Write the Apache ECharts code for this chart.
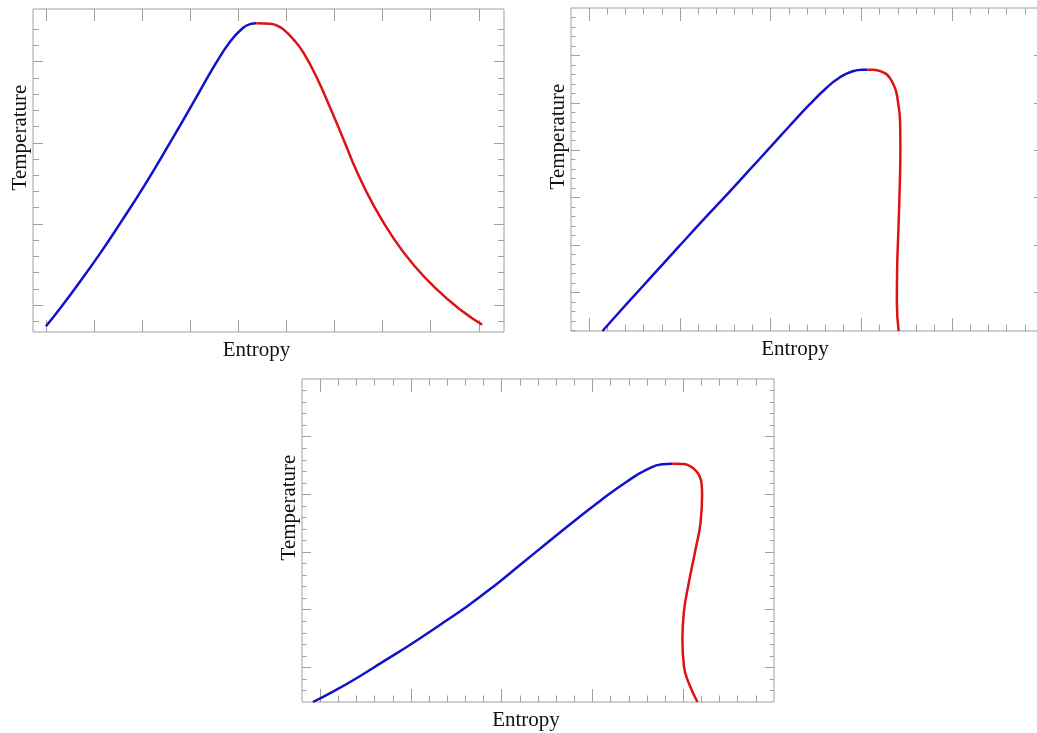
<!DOCTYPE html>
<html>
<head>
<meta charset="utf-8">
<script src="https://cdn.jsdelivr.net/npm/echarts@6/dist/echarts.min.js"></script>
<style>
html,body{margin:0;padding:0;background:#fff;}
#chart{width:1037px;height:733px;}
</style>
</head>
<body>
<div id="chart"></div>
<script>
// ---------- Panel A (top-left, bell-shaped dome) ----------
const aLiquidS = [0, 0.348, 0.702, 1.119, 1.535, 2.056, 2.577, 3.098, 3.515, 3.827, 4.077, 4.244, 4.375];
const aLiquidT = [0.737, 1.0, 1.284, 1.630, 2.0, 2.481, 3.0, 3.531, 3.963, 4.247, 4.407, 4.463, 4.473];
const aVaporS = [4.375, 4.66, 4.806, 4.938, 5.146, 5.354, 5.633, 5.910, 6.188, 6.467, 6.813, 7.229, 7.646, 8.133, 8.619, 9.071];
const aVaporT = [4.473, 4.469, 4.444, 4.399, 4.275, 4.111, 3.802, 3.432, 3.041, 2.642, 2.228, 1.821, 1.494, 1.189, 0.942, 0.757];
const aXMajor = [0, 1, 2, 3, 4, 5, 6, 7, 8, 9];
const aXMinor = [];
const aYMajor = [1, 2, 3, 4];
const aYMinor = [0.8, 1.2, 1.4, 1.6, 1.8, 2.2, 2.4, 2.6, 2.8, 3.2, 3.4, 3.6, 3.8, 4.2, 4.4];

// ---------- Panel B (top-right, vertical vapour branch) ----------
const bLiquidS = [1.147, 1.331, 1.551, 1.772, 1.992, 2.249, 2.507, 2.764, 2.985, 3.205, 3.426, 3.610, 3.756, 3.903, 4.013, 4.065];
const bLiquidT = [0.186, 0.582, 1.046, 1.511, 1.975, 2.513, 3.040, 3.578, 4.042, 4.506, 4.960, 5.308, 5.530, 5.667, 5.698, 5.698];
const bVaporS = [4.065, 4.124, 4.253, 4.302, 4.344, 4.379, 4.399, 4.426, 4.429, 4.422, 4.407, 4.393, 4.390, 4.410];
const bVaporT = [5.698, 5.698, 5.629, 5.551, 5.418, 5.255, 5.065, 4.574, 4.011, 3.251, 2.323, 1.479, 0.776, 0.186];
const bXMajor = [1, 2, 3, 4, 5];
const bXMinor = [1.2, 1.4, 1.6, 1.8, 2.2, 2.4, 2.6, 2.8, 3.2, 3.4, 3.6, 3.8, 4.2, 4.4, 4.6, 4.8, 5.2, 5.4, 5.6, 5.8];
const bYMajor = [1, 2, 3, 4, 5, 6];
const bYMinor = [0.2, 0.4, 0.6, 0.8, 1.2, 1.4, 1.6, 1.8, 2.2, 2.4, 2.6, 2.8, 3.2, 3.4, 3.6, 3.8, 4.2, 4.4, 4.6, 4.8, 5.2, 5.4, 5.6, 5.8, 6.2, 6.4, 6.6, 6.8];

// ---------- Panel C (bottom, overhanging vapour branch) ----------
const cLiquidS = [0.92, 1.147, 1.405, 1.698, 1.992, 2.323, 2.617, 2.911, 3.205, 3.499, 3.793, 4.087, 4.381, 4.602, 4.767, 4.878];
const cLiquidT = [0.40, 0.584, 0.816, 1.104, 1.393, 1.740, 2.057, 2.404, 2.780, 3.156, 3.530, 3.891, 4.224, 4.432, 4.522, 4.530];
const cVaporS = [4.878, 5.006, 5.079, 5.134, 5.182, 5.204, 5.208, 5.190, 5.135, 5.061, 5.006, 4.991, 5.008, 5.061, 5.157];
const cVaporT = [4.530, 4.525, 4.484, 4.418, 4.310, 4.149, 3.993, 3.503, 3.040, 2.463, 1.943, 1.480, 1.017, 0.730, 0.40];
const cXMajor = [1, 2, 3, 4, 5];
const cXMinor = [1.2, 1.4, 1.6, 1.8, 2.2, 2.4, 2.6, 2.8, 3.2, 3.4, 3.6, 3.8, 4.2, 4.4, 4.6, 4.8, 5.2, 5.4, 5.6, 5.8];
const cYMajor = [1, 2, 3, 4, 5];
const cYMinor = [0.6, 0.8, 1.2, 1.4, 1.6, 1.8, 2.2, 2.4, 2.6, 2.8, 3.2, 3.4, 3.6, 3.8, 4.2, 4.4, 4.6, 4.8, 5.2, 5.4, 5.6, 5.8];

const xTitle = 'Entropy';
const yTitle = 'Temperature';

const GRAY = '#a0a0a0';
const BLUE = '#1212cc';
const RED = '#dd1212';
const nameStyleX = {fontFamily: 'Liberation Serif', fontSize: 21, color: '#111', padding: [0, 24, 0, 0]};
const nameStyleY = {fontFamily: 'Liberation Serif', fontSize: 21, color: '#111', padding: [0, 0, 0, 66]};

const grids = [];
const xAxes = [];
const yAxes = [];
const series = [];

function zip(a, b) { return a.map((v, i) => [v, b[i]]); }

function tickAxis(gi, pos, min, max, vals, len, extra) {
  return Object.assign({
    type: 'value', gridIndex: gi, position: pos, min: min, max: max,
    axisLine: {show: false, onZero: false}, splitLine: {show: false},
    axisLabel: {show: false},
    axisTick: {show: true, inside: true, length: len, customValues: vals, lineStyle: {color: GRAY, width: 1}}
  }, extra || {});
}

function panel(box, xr, yr, xMaj, xMin, yMaj, yMin, lens, liq, vap) {
  const gi = grids.length;
  grids.push({left: box[0], top: box[1], width: box[2], height: box[3], show: true,
    borderColor: GRAY, borderWidth: 1, backgroundColor: 'transparent',
    containLabel: false, outerBoundsMode: 'none'});
  const xi = xAxes.length;
  xAxes.push(tickAxis(gi, 'bottom', xr[0], xr[1], xMaj, lens[0], {name: xTitle, nameLocation: 'middle', nameGap: 8, nameTextStyle: nameStyleX}));
  xAxes.push(tickAxis(gi, 'top', xr[0], xr[1], xMaj, lens[0]));
  if (xMin.length) {
    xAxes.push(tickAxis(gi, 'bottom', xr[0], xr[1], xMin, lens[1]));
    xAxes.push(tickAxis(gi, 'top', xr[0], xr[1], xMin, lens[1]));
  }
  const yi = yAxes.length;
  yAxes.push(tickAxis(gi, 'left', yr[0], yr[1], yMaj, lens[2], {name: yTitle, nameLocation: 'middle', nameGap: 2, nameRotate: 90, nameTextStyle: nameStyleY}));
  yAxes.push(tickAxis(gi, 'right', yr[0], yr[1], yMaj, lens[2]));
  yAxes.push(tickAxis(gi, 'left', yr[0], yr[1], yMin, lens[3]));
  yAxes.push(tickAxis(gi, 'right', yr[0], yr[1], yMin, lens[3]));
  [[liq, BLUE], [vap, RED]].forEach(([d, c]) => {
    series.push({type: 'line', xAxisIndex: xi, yAxisIndex: yi, data: d, showSymbol: false, smooth: 0.5,
      lineStyle: {color: c, width: 2.5}, silent: true, clip: true});
  });
}

panel([33, 9, 471, 323], [-0.27, 9.525], [0.667, 4.65], aXMajor, aXMinor, aYMajor, aYMinor, [12, 6, 10, 6],
  zip(aLiquidS, aLiquidT), zip(aVaporS, aVaporT));
panel([571, 8, 472, 323], [0.8, 6.0], [0.186, 7.0], bXMajor, bXMinor, bYMajor, bYMinor, [13, 6.5, 9, 4.5],
  zip(bLiquidS, bLiquidT), zip(bVaporS, bVaporT));
panel([302, 379, 472, 323], [0.8, 6.0], [0.4, 6.0], cXMajor, cXMinor, cYMajor, cYMinor, [13, 6.5, 9, 4.5],
  zip(cLiquidS, cLiquidT), zip(cVaporS, cVaporT));

const chart = echarts.init(document.getElementById('chart'), null, {renderer: 'canvas'});
chart.setOption({
  animation: false,
  backgroundColor: '#ffffff',
  grid: grids,
  xAxis: xAxes,
  yAxis: yAxes,
  series: series
});
</script>
</body>
</html>
